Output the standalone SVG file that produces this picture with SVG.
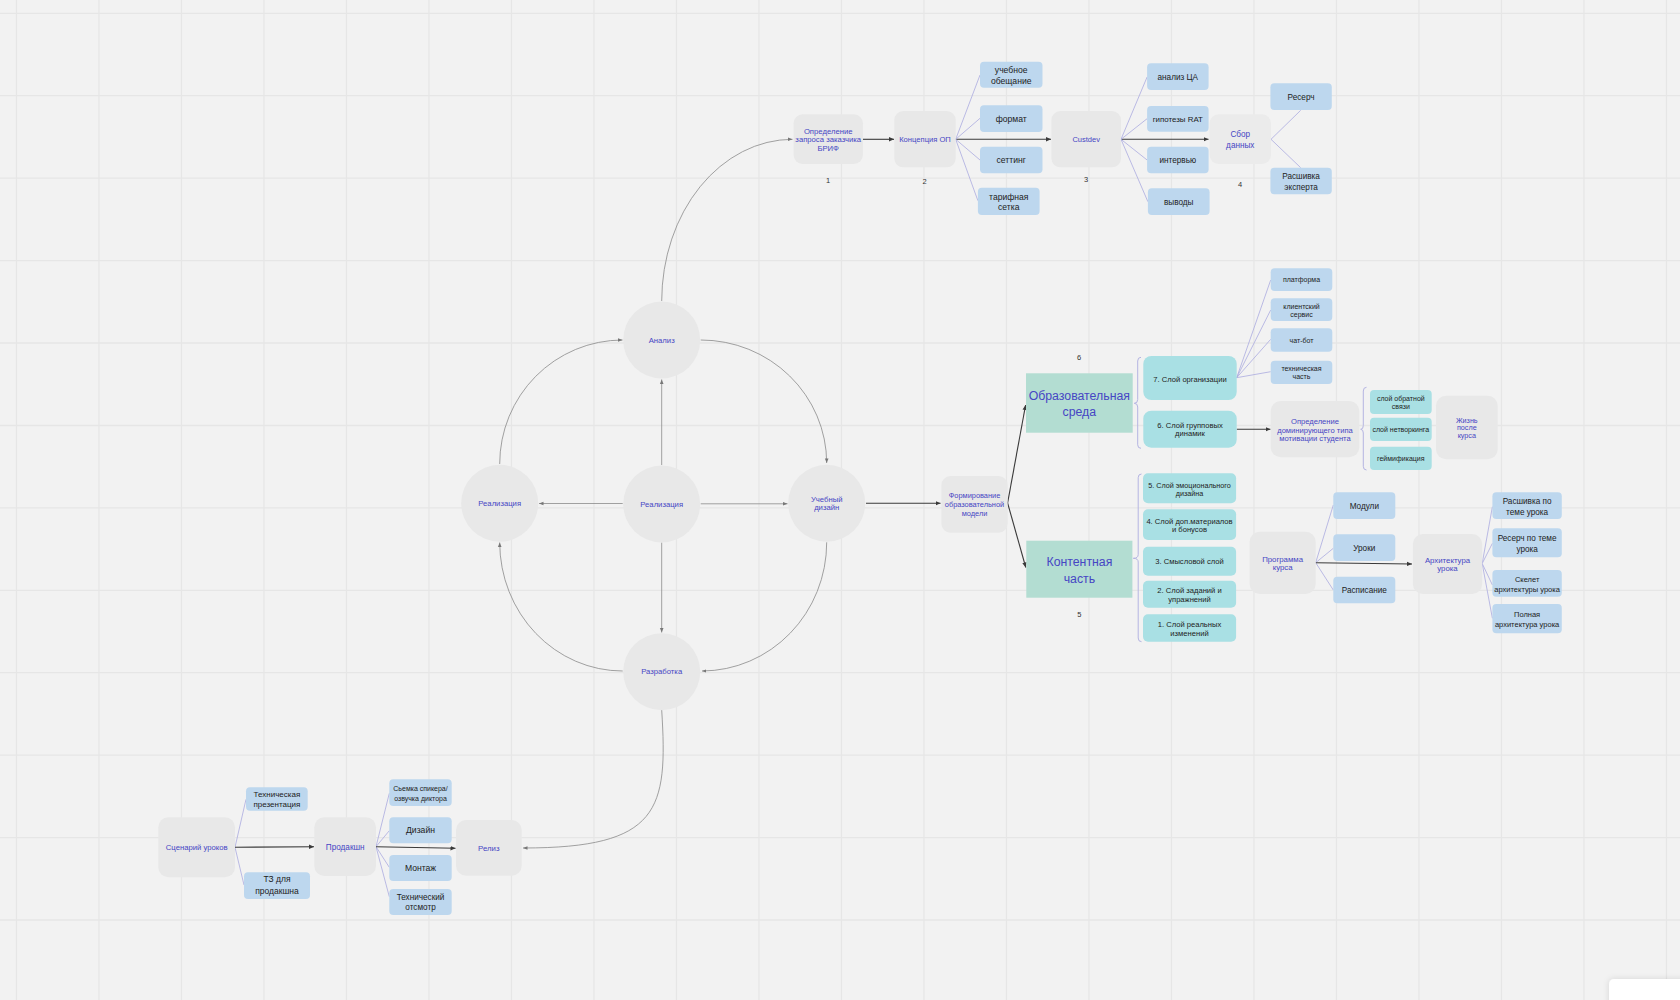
<svg xmlns="http://www.w3.org/2000/svg" width="1680" height="1000" viewBox="0 0 1680 1000">
<defs>
<style>
text{font-family:"Liberation Sans",Arial,sans-serif;text-anchor:middle}
.grid{stroke:#e6e6e6;stroke-width:1.3}
.g{fill:#e8e8e8}
.gl{fill:#ebebeb}
.b{fill:#bdd7ee}
.t{fill:#a9e0e4}
.gr{fill:#b3ddd2}
.bl{fill:#4646c4}
.dk{fill:#222}
.num{fill:#333;font-size:7.5px}
.fan{stroke:#ababdf;stroke-width:0.8;fill:none}
.brace{stroke:#b4b4e2;stroke-width:1;fill:none}
.arr{stroke:#3a3a3a;stroke-width:1.1;fill:none;marker-end:url(#ah)}
.carr{stroke:#8a8a8a;stroke-width:0.8;fill:none;marker-end:url(#ahs)}
</style>
<marker id="ah" markerUnits="userSpaceOnUse" markerWidth="6" markerHeight="6" refX="5" refY="3" orient="auto"><path d="M0,0.8 L5,3 L0,5.2 Z" fill="#3a3a3a"/></marker>
<marker id="ahs" markerUnits="userSpaceOnUse" markerWidth="6" markerHeight="6" refX="4.5" refY="3" orient="auto"><path d="M0,1.2 L4.5,3 L0,4.8 Z" fill="#777"/></marker>
<filter id="sh" x="-20%" y="-40%" width="140%" height="180%"><feDropShadow dx="0" dy="0" stdDeviation="3" flood-color="#000" flood-opacity="0.12"/></filter>
</defs>
<rect width="1680" height="1000" fill="#f2f2f2"/>
<g id="grid">
<path class="grid" d="M16.5,0V1000M99,0V1000M181.5,0V1000M264,0V1000M346.5,0V1000M429,0V1000M511.5,0V1000M594,0V1000M676.5,0V1000M759,0V1000M841.5,0V1000M924,0V1000M1006.5,0V1000M1089,0V1000M1171.5,0V1000M1254,0V1000M1336.5,0V1000M1419,0V1000M1501.5,0V1000M1584,0V1000M1666.5,0V1000"/>
<path class="grid" d="M0,13.3H1680M0,95.7H1680M0,178.2H1680M0,260.6H1680M0,343H1680M0,425.5H1680M0,507.9H1680M0,590.3H1680M0,672.7H1680M0,755.2H1680M0,837.6H1680M0,920H1680"/>
</g>

<g id="connectors">
<path class="carr" d="M661.7,301 A131,162 0 0 1 792.5,139.3"/>
<path class="arr" d="M862.9,139.3 H894"/>
<path class="arr" d="M955.7,139.3 H1051"/>
<path class="arr" d="M1121,139.3 H1208.5"/>
<path class="fan" d="M955.7,139.3 L980,75 M955.7,139.3 L980,118.3 M955.7,139.3 L980,160 M955.7,139.3 L977.9,200.7"/>
<path class="fan" d="M1121,139.3 L1147.1,77 M1121,139.3 L1147.1,118.7 M1121,139.3 L1147.1,160 M1121,139.3 L1147.9,201.7"/>
<path class="fan" d="M1271,139.3 L1300.7,110.3 M1271,139.3 L1300.7,167.7"/>

<path class="carr" d="M661.7,465 V379.5"/>
<path class="carr" d="M622.7,503.5 H539"/>
<path class="carr" d="M700.7,503.8 H787.5"/>
<path class="carr" d="M661.7,542.5 V632.5"/>
<path class="carr" d="M700.7,340 A126,123.3 0 0 1 826.7,463"/>
<path class="carr" d="M826.7,542.3 A125,128.7 0 0 1 702,671"/>
<path class="carr" d="M622.7,671 A123,128.7 0 0 1 499.7,542.5"/>
<path class="carr" d="M499.7,464 A123,124 0 0 1 622.5,340"/>
<path class="carr" d="M661.7,710 C668,810 660,848 523,848"/>

<path class="arr" d="M866,503.3 H940.5"/>
<path class="arr" d="M1007.6,503 L1025.6,405"/>
<path class="arr" d="M1007.6,503 Q1018,540 1025.8,567.5"/>
<path class="fan" d="M1236.7,377.7 L1270.7,280 M1236.7,377.7 L1270.7,310 M1236.7,377.7 L1270.7,339.3 M1236.7,377.7 L1270.7,371.7"/>
<path class="arr" d="M1236.7,429.3 H1270.5"/>
<path class="brace" d="M1141,357.3 Q1137.7,357.3 1137.7,361 V399.5 Q1137.7,403.3 1134.3,403.3 Q1137.7,403.3 1137.7,407 V444.8 Q1137.7,448.3 1141,448.3"/>
<path class="brace" d="M1366.5,387.3 Q1363.3,387.3 1363.3,391 V425.6 Q1363.3,429.3 1360.7,429.3 Q1363.3,429.3 1363.3,433 V466.3 Q1363.3,470 1366.5,470"/>
<path class="brace" d="M1141.5,474 Q1138.2,474 1138.2,477.7 V554.6 Q1138.2,558.3 1133.3,558.3 Q1138.2,558.3 1138.2,562 V638 Q1138.2,641.7 1141.5,641.7"/>
<path class="fan" d="M1315.7,562.7 L1333.3,505 M1315.7,562.7 L1333.3,548.3 M1315.7,562.7 L1333.3,590"/>
<path class="arr" d="M1315.7,562.7 L1412,564"/>
<path class="fan" d="M1482.2,563.5 L1492.4,506.7 M1482.2,563.5 L1492.4,543.3 M1482.2,563.5 L1492.4,585 M1482.2,563.5 L1492.4,618.3"/>

<path class="fan" d="M235,847.3 L246,799.3 M235,847.3 L244,885"/>
<path class="arr" d="M235,847.3 L314,846.7"/>
<path class="fan" d="M376,846.7 L389.3,793.3 M376,846.7 L389.3,830.7 M376,846.7 L389.3,867.3 M376,846.7 L389.3,896.7"/>
<path class="arr" d="M376,846.7 L455.5,848.3"/>
</g>

<g id="n-opredelenie"><rect class="g" x="793.6" y="114.3" width="69.3" height="49.7" rx="9"/><text class="bl" font-size="7.7"><tspan x="828.2" y="133.7">Определение</tspan><tspan x="828.2" y="142">запроса заказчика</tspan><tspan x="828.2" y="151.4">БРИФ</tspan></text><text class="num" x="828.2" y="183.3">1</text></g>
<g id="n-koncepciya"><rect class="g" x="894.3" y="111" width="61.4" height="56.3" rx="9"/><text class="bl" font-size="7.6" x="925" y="141.9">Концепция ОП</text><text class="num" x="924.6" y="183.6">2</text></g>
<g id="n-obeshanie"><rect class="b" x="980" y="61.7" width="62.5" height="26" rx="4"/><text class="dk" font-size="8.6"><tspan x="1011.2" y="73">учебное</tspan><tspan x="1011.2" y="84.3">обещание</tspan></text></g>
<g id="n-format"><rect class="b" x="980" y="105.3" width="62.5" height="26.7" rx="4"/><text class="dk" font-size="8.6" x="1011.2" y="121.6">формат</text></g>
<g id="n-setting"><rect class="b" x="980" y="146.7" width="62.5" height="26.6" rx="4"/><text class="dk" font-size="8.6" x="1011.2" y="163">сеттинг</text></g>
<g id="n-tarif"><rect class="b" x="977.9" y="187.7" width="61.7" height="27.3" rx="4"/><text class="dk" font-size="8.6"><tspan x="1008.8" y="199.7">тарифная</tspan><tspan x="1008.8" y="209.7">сетка</tspan></text></g>
<g id="n-custdev"><rect class="g" x="1051.4" y="111" width="69.6" height="56.3" rx="9"/><text class="bl" font-size="7.5" x="1086.2" y="141.9">Custdev</text><text class="num" x="1086" y="181.9">3</text></g>
<g id="n-analizca"><rect class="b" x="1147.1" y="63.3" width="61.5" height="26.7" rx="4"/><text class="dk" font-size="8.2" x="1177.8" y="79.6">анализ ЦА</text></g>
<g id="n-gipotezy"><rect class="b" x="1147.1" y="106" width="61.5" height="25.7" rx="4"/><text class="dk" font-size="7.9" x="1177.8" y="121.6">гипотезы RAT</text></g>
<g id="n-intervyu"><rect class="b" x="1147.1" y="146.7" width="61.5" height="26.6" rx="4"/><text class="dk" font-size="8.2" x="1177.8" y="162.9">интервью</text></g>
<g id="n-vyvody"><rect class="b" x="1147.9" y="188.3" width="61.7" height="26.7" rx="4"/><text class="dk" font-size="8.2" x="1178.7" y="204.6">выводы</text></g>
<g id="n-sbor"><rect class="gl" x="1209.6" y="114.3" width="61.4" height="49.7" rx="9"/><text class="bl" font-size="8.2"><tspan x="1240.3" y="137.2">Сбор</tspan><tspan x="1240.3" y="147.9">данных</tspan></text><text class="num" x="1240" y="186.6">4</text></g>
<g id="n-reserch"><rect class="b" x="1270.4" y="83.3" width="61.4" height="26.7" rx="4"/><text class="dk" font-size="8.2" x="1301.1" y="99.6">Ресерч</text></g>
<g id="n-rasshivka"><rect class="b" x="1270.4" y="167.7" width="61.4" height="26.6" rx="4"/><text class="dk" font-size="8.2"><tspan x="1301.1" y="178.9">Расшивка</tspan><tspan x="1301.1" y="189.6">эксперта</tspan></text></g>

<g id="n-analiz"><circle class="g" cx="661.7" cy="340" r="38.5"/><text class="bl" font-size="7.7" x="661.7" y="342.7">Анализ</text></g>
<g id="n-realizaciya-l"><circle class="g" cx="499.7" cy="503.3" r="38.5"/><text class="bl" font-size="7.7" x="499.7" y="506">Реализация</text></g>
<g id="n-realizaciya-c"><circle class="g" cx="661.7" cy="504" r="38.5"/><text class="bl" font-size="7.7" x="661.7" y="506.7">Реализация</text></g>
<g id="n-uchebnyi"><circle class="g" cx="826.7" cy="503.3" r="38.5"/><text class="bl" font-size="7.7"><tspan x="826.7" y="502">Учебный</tspan><tspan x="826.7" y="510">дизайн</tspan></text></g>
<g id="n-razrabotka"><circle class="g" cx="661.7" cy="671.7" r="38.5"/><text class="bl" font-size="7.7" x="661.7" y="674.4">Разработка</text></g>

<g id="n-formirovanie"><rect class="g" x="941.4" y="476" width="66.2" height="56.7" rx="9"/><text class="bl" font-size="7.4"><tspan x="974.5" y="498.3">Формирование</tspan><tspan x="974.5" y="506.9">образовательной</tspan><tspan x="974.5" y="515.9">модели</tspan></text></g>
<g id="n-obr-sreda"><rect class="gr" x="1026" y="373.3" width="106.7" height="59.4"/><text class="bl" font-size="12.3"><tspan x="1079.3" y="400.3">Образовательная</tspan><tspan x="1079.3" y="416">среда</tspan></text><text class="num" x="1079" y="360.3">6</text></g>
<g id="n-kontent"><rect class="gr" x="1026.3" y="540.7" width="106.1" height="57"/><text class="bl" font-size="12.3"><tspan x="1079.4" y="566">Контентная</tspan><tspan x="1079.4" y="582.6">часть</tspan></text><text class="num" x="1079.4" y="616.6">5</text></g>
<g id="n-sloi7"><rect class="t" x="1143.3" y="356" width="93.4" height="44" rx="8"/><text class="dk" font-size="7.6" x="1190" y="381.7">7. Слой организации</text></g>
<g id="n-sloi6"><rect class="t" x="1143.3" y="410.7" width="93.4" height="37" rx="8"/><text class="dk" font-size="7.6"><tspan x="1190" y="427.7">6. Слой групповых</tspan><tspan x="1190" y="436">динамик</tspan></text></g>
<g id="n-platforma"><rect class="b" x="1270.7" y="268.3" width="61.6" height="22.7" rx="4"/><text class="dk" font-size="7" x="1301.5" y="282.2">платформа</text></g>
<g id="n-klient"><rect class="b" x="1270.7" y="298.3" width="61.6" height="22.7" rx="4"/><text class="dk" font-size="7"><tspan x="1301.5" y="308.5">клиентский</tspan><tspan x="1301.5" y="316.5">сервис</tspan></text></g>
<g id="n-chatbot"><rect class="b" x="1270.7" y="328.3" width="61.6" height="23.4" rx="4"/><text class="dk" font-size="7" x="1301.5" y="342.5">чат-бот</text></g>
<g id="n-tehchast"><rect class="b" x="1270.7" y="360.7" width="61.6" height="23.3" rx="4"/><text class="dk" font-size="7"><tspan x="1301.5" y="370.8">техническая</tspan><tspan x="1301.5" y="378.5">часть</tspan></text></g>
<g id="n-dominir"><rect class="g" x="1270.7" y="401" width="88.6" height="56.3" rx="10"/><text class="bl" font-size="7.6"><tspan x="1315" y="423.7">Определение</tspan><tspan x="1315" y="432.7">доминирующего типа</tspan><tspan x="1315" y="441">мотивации студента</tspan></text></g>
<g id="n-obratnoi"><rect class="t" x="1370" y="390" width="61.7" height="24" rx="4"/><text class="dk" font-size="7"><tspan x="1400.8" y="400.8">слой обратной</tspan><tspan x="1400.8" y="409.2">связи</tspan></text></g>
<g id="n-network"><rect class="t" x="1370" y="417.7" width="61.7" height="23.3" rx="4"/><text class="dk" font-size="7" x="1400.8" y="431.8">слой нетворкинга</text></g>
<g id="n-geim"><rect class="t" x="1370" y="446.7" width="61.7" height="23.3" rx="4"/><text class="dk" font-size="7" x="1400.8" y="460.8">геймификация</text></g>
<g id="n-zhizn"><rect class="g" x="1436" y="395.7" width="61.7" height="63.6" rx="10"/><text class="bl" font-size="7.2"><tspan x="1466.8" y="422.5">Жизнь</tspan><tspan x="1466.8" y="430.2">после</tspan><tspan x="1466.8" y="437.5">курса</tspan></text></g>

<g id="n-sloi5"><rect class="t" x="1143" y="473.3" width="93.1" height="30" rx="5"/><text class="dk" font-size="7.2"><tspan x="1189.5" y="488.2">5. Слой эмоционального</tspan><tspan x="1189.5" y="495.8">дизайна</tspan></text></g>
<g id="n-sloi4"><rect class="t" x="1143" y="509.3" width="93.1" height="30.7" rx="5"/><text class="dk" font-size="7.6"><tspan x="1189.5" y="523.6">4. Слой доп.материалов</tspan><tspan x="1189.5" y="531.9">и бонусов</tspan></text></g>
<g id="n-sloi3"><rect class="t" x="1143" y="546.7" width="93.1" height="29" rx="5"/><text class="dk" font-size="7.6" x="1189.5" y="564.3">3. Смысловой слой</text></g>
<g id="n-sloi2"><rect class="t" x="1143" y="580.7" width="93.1" height="27" rx="5"/><text class="dk" font-size="7.6"><tspan x="1189.5" y="592.6">2. Слой заданий и</tspan><tspan x="1189.5" y="601.9">упражнений</tspan></text></g>
<g id="n-sloi1"><rect class="t" x="1143" y="614.3" width="93.1" height="27.4" rx="5"/><text class="dk" font-size="7.6"><tspan x="1189.5" y="626.6">1. Слой реальных</tspan><tspan x="1189.5" y="635.9">изменений</tspan></text></g>
<g id="n-programma"><rect class="g" x="1249.6" y="531.7" width="66.1" height="62.3" rx="10"/><text class="bl" font-size="7.8"><tspan x="1282.6" y="561.7">Программа</tspan><tspan x="1282.6" y="570.4">курса</tspan></text></g>
<g id="n-moduli"><rect class="b" x="1333.3" y="492.3" width="62" height="26.7" rx="4"/><text class="dk" font-size="8.2" x="1364.3" y="508.6">Модули</text></g>
<g id="n-uroki"><rect class="b" x="1333.3" y="534.3" width="62" height="26.7" rx="4"/><text class="dk" font-size="8.2" x="1364.3" y="550.6">Уроки</text></g>
<g id="n-raspisanie"><rect class="b" x="1333.3" y="576.7" width="62" height="26.6" rx="4"/><text class="dk" font-size="8.2" x="1364.3" y="592.9">Расписание</text></g>
<g id="n-arhitektura"><rect class="g" x="1412.9" y="534" width="69.3" height="60" rx="10"/><text class="bl" font-size="7.8"><tspan x="1447.5" y="562.7">Архитектура</tspan><tspan x="1447.5" y="571">урока</tspan></text></g>
<g id="n-rasshivka-urok"><rect class="b" x="1492.4" y="492.3" width="69.4" height="26.7" rx="4"/><text class="dk" font-size="8.2"><tspan x="1527.1" y="503.5">Расшивка по</tspan><tspan x="1527.1" y="514.5">теме урока</tspan></text></g>
<g id="n-reserch-urok"><rect class="b" x="1492.4" y="528.3" width="69.4" height="29" rx="4"/><text class="dk" font-size="8.2"><tspan x="1527.1" y="541.1">Ресерч по теме</tspan><tspan x="1527.1" y="551.8">урока</tspan></text></g>
<g id="n-skelet"><rect class="b" x="1492.4" y="570" width="69.4" height="26.7" rx="4"/><text class="dk" font-size="7.5"><tspan x="1527.1" y="581.9">Скелет</tspan><tspan x="1527.1" y="591.6">архитектуры урока</tspan></text></g>
<g id="n-polnaya"><rect class="b" x="1492.4" y="604" width="69.4" height="29.3" rx="4"/><text class="dk" font-size="7.5"><tspan x="1527.1" y="616.9">Полная</tspan><tspan x="1527.1" y="626.9">архитектура урока</tspan></text></g>

<g id="n-scenarii"><rect class="g" x="158.3" y="817.3" width="76.7" height="60" rx="10"/><text class="bl" font-size="7.7" x="196.7" y="850">Сценарий уроков</text></g>
<g id="n-tehprez"><rect class="b" x="246" y="787.3" width="61.7" height="23.4" rx="4"/><text class="dk" font-size="8"><tspan x="276.9" y="797.1">Техническая</tspan><tspan x="276.9" y="807.1">презентация</tspan></text></g>
<g id="n-tz"><rect class="b" x="244" y="872.3" width="66" height="26.7" rx="4"/><text class="dk" font-size="8.5"><tspan x="277" y="882.2">ТЗ для</tspan><tspan x="277" y="893.9">продакшна</tspan></text></g>
<g id="n-prodakshn"><rect class="g" x="314.3" y="817.3" width="61.7" height="58.7" rx="10"/><text class="bl" font-size="8.2" x="345.2" y="849.5">Продакшн</text></g>
<g id="n-semka"><rect class="b" x="389.3" y="779.3" width="62.4" height="26.7" rx="4"/><text class="dk" font-size="7"><tspan x="420.5" y="790.8">Сьемка спикера/</tspan><tspan x="420.5" y="800.8">озвучка диктора</tspan></text></g>
<g id="n-dizain"><rect class="b" x="389.3" y="817.3" width="62.4" height="26" rx="4"/><text class="dk" font-size="8.6" x="420.5" y="833.3">Дизайн</text></g>
<g id="n-montazh"><rect class="b" x="389.3" y="855" width="62.4" height="26" rx="4"/><text class="dk" font-size="8.6" x="420.5" y="871">Монтаж</text></g>
<g id="n-otsmotr"><rect class="b" x="389.3" y="889" width="62.4" height="26" rx="4"/><text class="dk" font-size="8.2"><tspan x="420.5" y="899.5">Технический</tspan><tspan x="420.5" y="910.1">отсмотр</tspan></text></g>
<g id="n-reliz"><rect class="g" x="456" y="820" width="65.7" height="55.7" rx="10"/><text class="bl" font-size="7.8" x="488.8" y="851">Релиз</text></g>

<rect x="1609" y="979" width="80" height="40" rx="5" fill="#ffffff" filter="url(#sh)"/>
</svg>
